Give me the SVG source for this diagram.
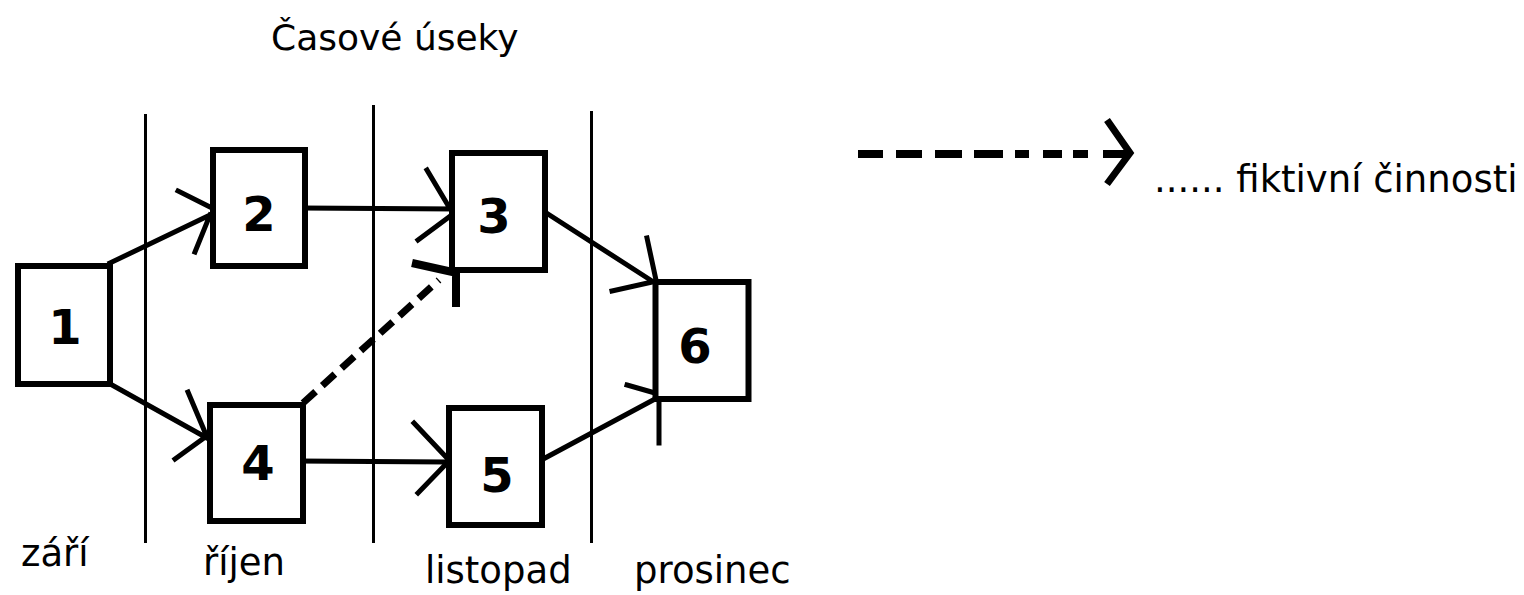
<svg xmlns="http://www.w3.org/2000/svg" width="1524" height="595" viewBox="0 0 1524 595">
<style>
  .box { fill: #ffffff; stroke: #000000; stroke-width: 6; }
  .num { font-family: "DejaVu Sans", "Liberation Sans", sans-serif; font-weight: bold; font-size: 48px; fill: #000000; text-anchor: middle; }
  .lbl { font-family: "DejaVu Sans", "Liberation Sans", sans-serif; font-size: 37px; fill: #000000; }
  .ttl { font-family: "DejaVu Sans", "Liberation Sans", sans-serif; font-size: 36px; fill: #000000; }
  .div { stroke: #000000; stroke-width: 3; fill: none; }
  .edge { stroke: #000000; stroke-width: 5; fill: none; stroke-linecap: square; }
  .dash { stroke: #000000; stroke-width: 7; fill: none; stroke-dasharray: 17 9; }
  .head { stroke: #000000; stroke-width: 8; fill: none; }
</style>
<rect width="1524" height="595" fill="#ffffff"/>

<text class="ttl" x="271" y="50">Časové úseky</text>

<g id="timeline">
  <line class="div" x1="145.5" y1="114" x2="145.5" y2="543"/>
  <line class="div" x1="373.5" y1="105" x2="373.5" y2="543"/>
  <line class="div" x1="591.5" y1="111" x2="591.5" y2="543"/>
  <text class="lbl" x="21" y="566">září</text>
  <text class="lbl" x="203" y="575">říjen</text>
  <text class="lbl" x="425" y="583">listopad</text>
  <text class="lbl" x="634" y="583">prosinec</text>
</g>

<g id="connectors">
  <!-- 1 -> 2 -->
  <path class="edge" d="M110,263 L210,215 M178,191 L210,207 M195,252 L210,215"/>
  <!-- 1 -> 4 -->
  <path class="edge" d="M112,385 L207,438 M188,392 L207,437 M175,459 L204,438"/>
  <!-- 2 -> 3 -->
  <path class="edge" d="M302,208 L457,209 M427,170 L449,207 M418,240 L449,217"/>
  <!-- 4 -> 5 -->
  <path class="edge" d="M298,461 L448,462 M414,423 L447,458 M418,493 L445,465"/>
  <!-- 3 -> 6 -->
  <path class="edge" d="M548,214 L652,281 M647,238 L656,280 M612,291 L652,282"/>
  <!-- 5 -> 6 -->
  <path class="edge" d="M545,458 L655,399 M627,385 L655,393 M659,400 L659,443"/>
  <!-- 4 -> 3 dashed (fictive) -->
  <path class="dash" d="M303,403 L439,280"/>
  <path class="head" d="M412,263 L457,273 M456,268 L456,307"/>
</g>

<g id="node1">
  <rect class="box" x="18" y="266" width="92" height="118"/>
  <text class="num" x="65" y="344">1</text>
</g>
<g id="node2">
  <rect class="box" x="213" y="150" width="92" height="116"/>
  <text class="num" x="259" y="231">2</text>
</g>
<g id="node3">
  <rect class="box" x="452" y="153" width="93" height="117"/>
  <text class="num" x="494" y="233">3</text>
</g>
<g id="node4">
  <rect class="box" x="210" y="405" width="93" height="116"/>
  <text class="num" x="258" y="480">4</text>
</g>
<g id="node5">
  <rect class="box" x="449" y="408" width="93" height="117"/>
  <text class="num" x="497" y="492">5</text>
</g>
<g id="node6">
  <rect class="box" x="655.5" y="282" width="93" height="117"/>
  <text class="num" x="695" y="363">6</text>
</g>

<g id="legend">
  <path d="M858,154 H883 M896,154 H922 M935,154 H962 M974,154 H1003 M1015,154 H1029 M1043,154 H1062 M1073,154 H1088 M1103,154 H1127" stroke="#000000" stroke-width="8" fill="none"/>
  <polyline points="1107,120 1130,153 1107,184" stroke="#000000" stroke-width="7" fill="none"/>
  <text class="lbl" x="1154" y="192">...... fiktivní činnosti</text>
</g>
</svg>
